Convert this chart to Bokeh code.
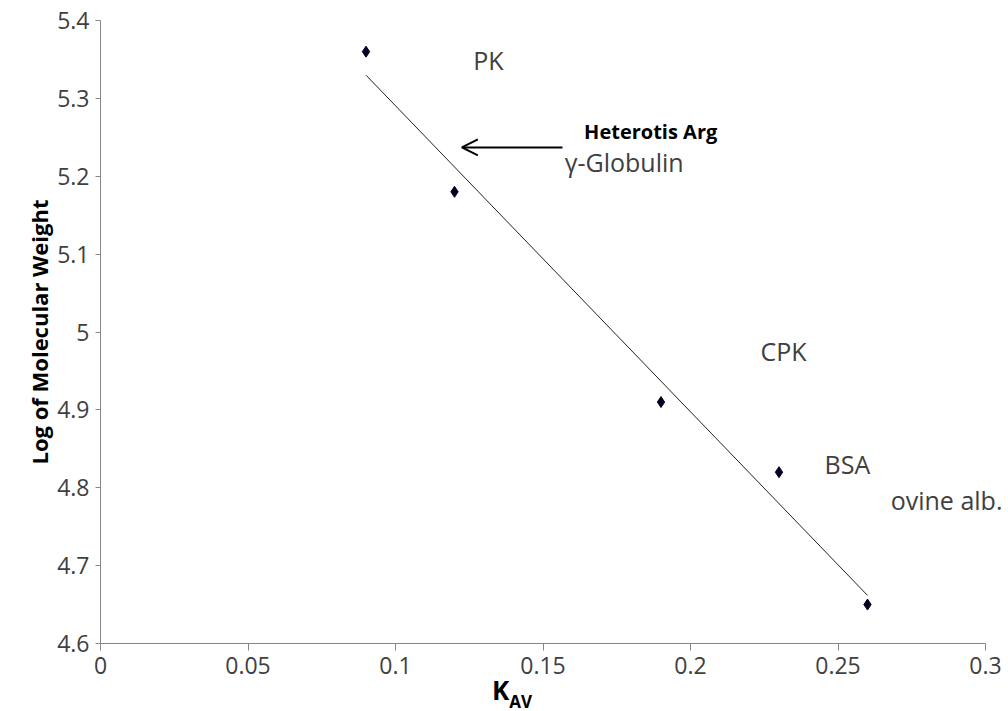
from bokeh.plotting import figure
from bokeh.models import (Range1d, FixedTicker, CustomJSTickFormatter, Label,
                          Arrow, OpenHead, ColumnDataSource, Div)
from bokeh.layouts import column
from bokeh.core.properties import value
from bokeh.embed import file_html
from bokeh.resources import INLINE
import numpy as np

# data
kav = [0.09, 0.12, 0.19, 0.23, 0.26]
logmw = [5.36, 5.18, 4.91, 4.82, 4.65]
x_ticks = [0, 0.05, 0.1, 0.15, 0.2, 0.25, 0.3]
y_ticks = [4.6, 4.7, 4.8, 4.9, 5.0, 5.1, 5.2, 5.3, 5.4]
ann_text = ["PK", "\u03b3-Globulin", "CPK", "BSA", "ovine alb."]
ann_x = [0.1315, 0.1775, 0.2315, 0.2532, 0.2868]
ann_y = [5.349, 5.218, 4.975, 4.83, 4.784]
arrow_label = "Heterotis Arg"
arrow_from = (0.1566, 5.237)
arrow_to = (0.1225, 5.237)
x_title_main = "K"
x_title_sub = "AV"

FONT = "Open Sans"
X_MAX = 0.3

# frame extends past the axis end (axis bounds limit the drawn axis to 0..0.3)
p = figure(width=1008, height=690, output_backend="svg", toolbar_location=None,
           x_range=Range1d(0, X_MAX * 908 / 885), y_range=Range1d(4.6, 5.4),
           min_border_left=100, min_border_right=0, min_border_top=20,
           min_border_bottom=47)
p.outline_line_color = None
p.xgrid.visible = False
p.ygrid.visible = False
p.background_fill_color = "white"
p.border_fill_color = "white"
p.xaxis.bounds = (0, X_MAX)

fmt = CustomJSTickFormatter(code="return String(Number(tick.toFixed(3)));")
for ax, ticks in ((p.xaxis[0], x_ticks), (p.yaxis[0], y_ticks)):
    ax.ticker = FixedTicker(ticks=ticks)
    ax.formatter = fmt
    ax.axis_line_color = "#868686"
    ax.major_tick_line_color = "#868686"
    ax.minor_tick_line_color = None
    ax.major_tick_in = 0
    ax.major_label_text_font = FONT
    ax.major_label_text_font_size = "23px"
    ax.major_label_text_color = "#404040"

p.xaxis.major_tick_out = 7
p.yaxis.major_tick_out = 5
p.xaxis.major_label_standoff = 6
p.yaxis.major_label_standoff = 6

p.yaxis.axis_label = "Log of Molecular Weight"
p.yaxis.axis_label_text_font = FONT
p.yaxis.axis_label_text_font_style = "bold"
p.yaxis.axis_label_text_font_size = "22px"
p.yaxis.axis_label_text_color = "black"
p.yaxis.axis_label_standoff = 0

# trendline (least squares fit of the data)
b, a = np.polyfit(kav, logmw, 1)
tx = [min(kav), max(kav)]
p.line(tx, [a + b * v for v in tx], line_color="#222222", line_width=1)

p.scatter(kav, logmw, marker="diamond", size=11, fill_color="#000022",
          line_color="#000022")

src = ColumnDataSource(dict(x=ann_x, y=ann_y, t=ann_text))
p.text(x="x", y="y", text="t", source=src, text_font=value(FONT),
       text_font_size="25px", text_color="#404040", text_align="center",
       text_baseline="middle")

p.add_layout(Label(x=0.1865, y=5.257, text=arrow_label, text_font=FONT,
                   text_font_style="bold", text_font_size="20px",
                   text_color="black", text_align="center",
                   text_baseline="middle"))
p.add_layout(Arrow(x_start=arrow_from[0], y_start=arrow_from[1],
                   x_end=arrow_to[0], y_end=arrow_to[1],
                   line_color="black", line_width=2,
                   end=OpenHead(size=16, line_color="black", line_width=2)))

title_html = (
    '<div style="position:absolute; left:492px; top:-15px; white-space:nowrap;'
    ' font-family:\'Open Sans\'; font-weight:bold; font-size:26px;'
    ' line-height:30px; color:black;">'
    + x_title_main +
    '<span style="font-size:17px; position:relative; top:8px;">'
    + x_title_sub + '</span></div>'
)
div = Div(text=title_html, width=1008, height=21, margin=(0, 0, 0, 0),
          styles={"overflow": "visible"})

layout = column(p, div, spacing=0)

open("out.html", "w").write(file_html(layout, INLINE))
